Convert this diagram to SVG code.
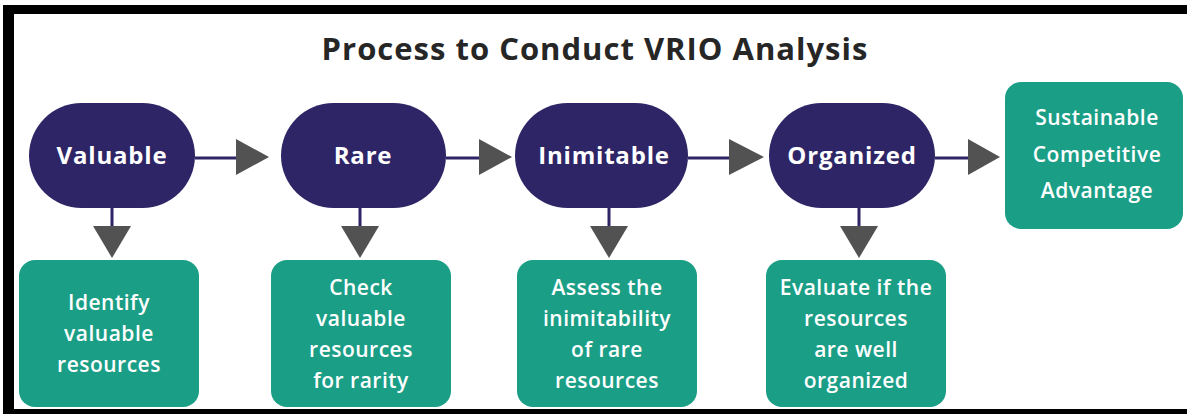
<svg xmlns="http://www.w3.org/2000/svg" width="1187" height="414" viewBox="0 0 1187 414">
<defs>
<style>
.title{font-family:"Open Sans","Liberation Sans",sans-serif;font-weight:700;font-size:31px;letter-spacing:1px;fill:#262626;text-anchor:middle}
.stad{fill:#2e2566}
.stxt{font-family:"Open Sans","Liberation Sans",sans-serif;font-weight:700;font-size:24px;letter-spacing:0.8px;fill:#ffffff;text-anchor:middle}
.box{fill:#1b9e86}
.btxt{font-family:"Open Sans","Liberation Sans",sans-serif;font-weight:600;font-size:21px;letter-spacing:0.5px;fill:#ffffff;text-anchor:middle}
.ln{stroke:#2e2566;stroke-width:3;fill:none}
.head{fill:#525252}
</style>
</defs>
<rect x="0" y="0" width="1187" height="414" fill="#ffffff"/>
<g id="frame" fill="#000000">
<rect x="3" y="5" width="1184" height="9"/>
<rect x="3" y="5" width="11" height="409"/>
<rect x="3" y="409" width="1184" height="5"/>
</g>
<text class="title" x="595" y="60">Process to Conduct VRIO Analysis</text>
<g id="connectors">
<line class="ln" x1="195" y1="158" x2="237" y2="158"/>
<polygon class="head" points="236,139 269,157 236,175"/>
<line class="ln" x1="446" y1="158" x2="481" y2="158"/>
<polygon class="head" points="479,139 512,157 479,175"/>
<line class="ln" x1="688" y1="158" x2="731" y2="158"/>
<polygon class="head" points="729,139 764,157 729,175"/>
<line class="ln" x1="935" y1="158" x2="970" y2="158"/>
<polygon class="head" points="968,139 1000,157 968,175"/>
<line class="ln" x1="112" y1="207" x2="112" y2="228"/>
<polygon class="head" points="93,226 131,226 112,258"/>
<line class="ln" x1="360" y1="207" x2="360" y2="228"/>
<polygon class="head" points="341,226 379,226 360,258"/>
<line class="ln" x1="609" y1="207" x2="609" y2="228"/>
<polygon class="head" points="590,226 628,226 609,258"/>
<line class="ln" x1="859" y1="207" x2="859" y2="228"/>
<polygon class="head" points="840,226 878,226 859,258"/>
</g>
<g id="valuable">
<rect class="stad" x="29" y="103" width="166" height="105" rx="52.5"/>
<text class="stxt" x="112" y="164">Valuable</text>
</g>
<g id="rare">
<rect class="stad" x="281" y="103" width="165" height="105" rx="52.5"/>
<text class="stxt" x="363" y="164">Rare</text>
</g>
<g id="inimitable">
<rect class="stad" x="515" y="103" width="173" height="105" rx="52.5"/>
<text class="stxt" x="604" y="164">Inimitable</text>
</g>
<g id="organized">
<rect class="stad" x="769" y="103" width="166" height="105" rx="52.5"/>
<text class="stxt" x="852" y="164">Organized</text>
</g>
<g id="sustainable">
<rect class="box" x="1005" y="82" width="178" height="147" rx="16"/>
<text class="btxt" x="1097" y="125">Sustainable</text>
<text class="btxt" x="1097" y="162">Competitive</text>
<text class="btxt" x="1097" y="198">Advantage</text>
</g>
<g id="identify">
<rect class="box" x="19" y="260" width="180" height="147" rx="16"/>
<text class="btxt" x="109" y="310">Identify</text>
<text class="btxt" x="109" y="341">valuable</text>
<text class="btxt" x="109" y="372">resources</text>
</g>
<g id="check">
<rect class="box" x="271" y="260" width="180" height="147" rx="16"/>
<text class="btxt" x="361" y="295">Check</text>
<text class="btxt" x="361" y="326">valuable</text>
<text class="btxt" x="361" y="357">resources</text>
<text class="btxt" x="361" y="388">for rarity</text>
</g>
<g id="assess">
<rect class="box" x="517" y="260" width="180" height="147" rx="16"/>
<text class="btxt" x="607" y="295">Assess the</text>
<text class="btxt" x="607" y="326">inimitability</text>
<text class="btxt" x="607" y="357">of rare</text>
<text class="btxt" x="607" y="388">resources</text>
</g>
<g id="evaluate">
<rect class="box" x="766" y="260" width="180" height="147" rx="16"/>
<text class="btxt" x="856" y="295">Evaluate if the</text>
<text class="btxt" x="856" y="326">resources</text>
<text class="btxt" x="856" y="357">are well</text>
<text class="btxt" x="856" y="388">organized</text>
</g>
</svg>
